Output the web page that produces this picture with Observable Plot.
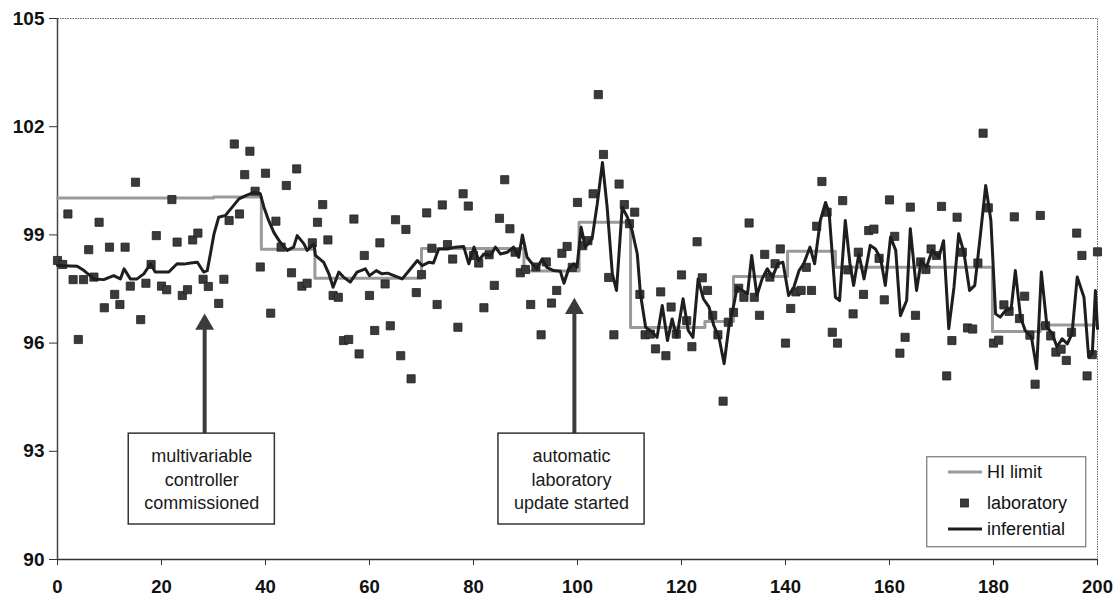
<!DOCTYPE html>
<html><head><meta charset="utf-8">
<script src="https://cdn.jsdelivr.net/npm/d3@7"></script>
<script src="https://cdn.jsdelivr.net/npm/@observablehq/plot@0.6"></script>
<style>
body{margin:0;background:#fff;font-family:"Liberation Sans",Arial,sans-serif;}
#wrap{position:relative;width:1120px;height:597px;overflow:hidden;}
#legend{position:absolute;left:926px;top:456px;}
</style></head>
<body><div id="wrap"></div>
<script>
// inferential (x = sample, v = value)
const infX = [0,3.8,5.1,7.0,8.9,10.8,12.1,12.8,14.0,15.3,16.6,17.9,18.8,19.8,21.4,23.0,24.3,25.6,26.9,28.1,28.8,29.4,30.1,31.0,32.3,33.6,34.9,36.2,37.8,39.0,39.7,40.6,41.6,42.8,44.2,45.4,46.1,47.4,48.0,49.3,
  49.6,51.2,52.2,53.0,54.1,55.0,56.3,57.6,59.2,60.0,61.3,62.4,63.5,64.7,66.3,67.9,69.2,70.1,71.4,72.3,73.3,75.0,76.5,78.1,79.1,80.1,81.0,82.0,83.3,84.2,85.2,86.5,87.7,88.7,89.4,90.3,91.3,92.2,93.2,94.1,95.4,96.7,97.4,98.3,99.3,99.9,
  100.7,101.5,102.8,103.8,104.8,105.7,106.7,107.5,108.6,109.6,110.5,111.5,112.1,113.1,114.4,115.3,116.3,117.3,118.2,119.1,120.3,121.3,122.2,123.2,124.2,125.3,126.2,127.2,128.2,129.1,130.1,130.7,131.7,132.7,133.5,134.5,135.5,136.5,137.5,138.5,139.5,140.6,141.6,142.6,143.5,144.7,145.6,146.7,147.7,148.4,149.6,150.4,
  151.5,152.4,153.1,154.1,155.1,156.3,157.3,158.3,159.2,160.2,161.2,162.1,163.3,164.0,165.2,166.1,167.1,168.2,169.5,170.4,171.4,172.4,173.3,174.3,175.4,176.4,177.5,178.5,179.5,180.4,181.3,182.3,183.4,184.2,185.2,186.1,187.3,188.3,189.2,190.3,191.3,192.2,193.2,194.2,195.1,196.1,197.4,198.3,199.0,199.6,200];
const infV = [98.15,98.13,98.01,97.78,97.76,97.87,97.78,98.06,97.78,97.78,97.92,98.20,97.97,97.97,97.97,98.20,98.19,98.22,98.24,97.97,98.01,98.47,99.03,99.49,99.54,99.77,100.0,100.09,100.18,100.14,99.77,99.40,99.07,98.80,98.57,98.66,98.98,98.75,98.57,98.75,
  98.43,98.24,97.92,97.55,97.97,97.83,97.69,97.97,98.06,97.87,98.01,97.92,97.94,97.87,97.78,98.06,98.29,98.15,98.24,98.22,98.61,98.61,98.66,98.68,98.20,98.66,98.29,98.47,98.43,98.66,98.47,98.52,98.66,98.38,99.0,98.38,98.20,98.06,98.33,98.10,98.01,97.99,97.66,98.06,98.20,98.10,
  99.21,98.66,98.89,99.86,101.01,99.77,97.92,97.46,99.77,99.49,99.12,98.47,97.37,96.44,96.30,96.16,97.04,96.07,96.67,96.16,97.23,96.35,96.16,97.78,97.23,97.0,96.49,96.16,95.43,96.44,97.09,97.55,97.46,97.37,98.43,97.32,97.78,98.06,97.83,98.20,98.24,97.32,97.55,98.01,98.20,98.66,98.20,99.4,99.9,99.6,97.27,97.18,
  99.40,98.20,97.60,98.47,97.78,98.71,98.61,98.34,97.60,98.94,98.57,96.76,97.18,99.17,97.46,98.29,98.10,98.57,98.38,98.84,96.40,97.55,99.03,98.52,97.46,97.60,99.03,100.37,99.40,96.81,96.72,96.90,96.95,98.01,96.72,96.35,96.16,95.29,97.97,96.44,96.26,95.89,96.12,95.98,96.26,97.83,97.27,95.61,95.70,97.46,96.4];

// laboratory samples
const labX = [0,1,2,3,4,5,6,7,8,9,10,11,12,13,14,15,16,17,18,19,20,21,22,23,24,25,26,27,28,29,31,32,33,34,35,36,37,38,39,40,41,42,43,44,45,46,47,48,49,
  50,51,52,53,54,55,56,57,58,59,60,61,62,63,64,65,66,67,68,69,70,71,72,73,74,75,76,77,78,79,80,81,82,83,84,85,86,87,88,89,90,91,92,93,94,95,96,97,98,99,
  100,101,102,103,104,105,106,107,108,109,110,111,112,113,114,115,116,117,118,119,120,121,122,123,124,125,126,127,128,129,130,131,132,133,134,135,136,137,138,139,140,141,142,143,144,145,146,147,148,149,
  150,151,152,153,154,155,156,157,158,159,160,161,162,163,164,165,166,167,168,169,170,171,172,173,174,175,176,177,178,179,180,181,182,183,184,185,186,187,188,189,190,191,192,193,194,195,196,197,198,199,200];
const labV = [98.29,98.18,99.58,97.76,96.10,97.76,98.59,97.83,99.35,96.98,98.66,97.35,97.07,98.66,97.58,100.46,96.65,97.66,98.18,98.98,97.58,97.48,99.98,98.80,97.32,97.48,98.86,99.05,97.77,97.57,97.10,97.77,99.40,101.52,99.58,100.67,101.32,100.21,98.11,100.71,96.83,99.38,98.66,100.37,97.95,100.83,97.58,97.66,98.78,
  99.35,99.84,98.86,97.32,97.27,96.07,96.10,99.44,95.70,98.43,97.32,96.35,98.78,97.64,96.48,99.42,95.65,99.15,95.01,97.40,97.90,99.61,98.63,97.07,99.83,98.73,98.33,96.44,100.14,99.80,98.43,98.22,96.98,98.45,97.60,99.46,100.53,99.17,98.52,97.95,98.04,97.07,98.11,96.23,98.25,97.11,97.46,98.49,98.68,98.10,
  99.90,98.70,98.84,100.14,102.89,101.23,97.82,96.23,100.41,99.84,99.31,99.63,97.35,96.23,96.25,95.84,97.42,95.65,97.0,96.25,97.89,96.62,95.90,98.81,97.81,97.46,96.77,96.23,94.39,96.58,96.85,97.52,97.27,99.33,97.27,96.77,98.46,97.83,98.20,98.61,96.0,96.96,97.42,97.46,98.10,97.46,99.24,100.48,99.63,96.30,
  96.0,99.95,98.03,96.81,98.52,97.35,99.12,99.16,98.35,97.20,99.97,98.96,95.72,96.16,99.77,96.77,98.25,98.04,98.61,98.43,99.79,95.09,96.07,99.49,98.52,96.42,96.39,98.22,101.82,99.75,96.0,96.08,97.06,96.88,99.50,96.68,97.30,96.22,94.86,99.54,96.48,96.20,95.75,95.83,95.52,96.30,99.05,98.43,95.09,95.68,98.53];

// HI limit (step changes)
const hiX = [0,30,39.2,49.5,70,89.7,100.3,110.2,124.5,130,140.4,149.6,179.8,189,200];
const hiV = [100.02,100.05,98.6,97.8,98.62,98.0,99.35,96.43,96.6,97.85,98.55,98.1,96.32,96.5,96.5];

const xTicks = [0,20,40,60,80,100,120,140,160,180,200];
const yTicks = [90,93,96,99,102,105];

const eventX = [28.3, 99.4];
const eventTip = [96.82, 97.26];
const eventLabel = ["multivariable\ncontroller\ncommissioned", "automatic\nlaboratory\nupdate started"];

const legendLabels = ["HI limit", "laboratory", "inferential"];

const inf = infX.map((x, i) => ({x, v: infV[i]}));
const lab = labX.map((x, i) => ({x, v: labV[i]}));
const hi = hiX.map((x, i) => ({x, v: hiV[i]}));
const events = eventX.map((x, i) => ({x, tip: eventTip[i], label: eventLabel[i]}));

const chart = Plot.plot({
  width: 1120, height: 597,
  marginLeft: 57, marginRight: 23, marginTop: 18, marginBottom: 38,
  style: {fontFamily: "Liberation Sans, Arial, sans-serif", background: "white", color: "#111"},
  x: {domain: [0, 200]},
  y: {domain: [90, 105]},
  marks: [
    Plot.frame({stroke: "#666", strokeDasharray: "1.5,1"}),
    Plot.ruleX([0], {stroke: "#444", strokeWidth: 1.5}),
    Plot.ruleY([90], {stroke: "#333", strokeWidth: 1.5}),
    Plot.axisX({ticks: xTicks, tickSize: 6, tickPadding: 14.5, fontSize: 18.5, fontWeight: "bold", stroke: "#333", label: null}),
    Plot.axisY({ticks: yTicks, tickSize: 8, tickPadding: 5, fontSize: 19, fontWeight: "bold", stroke: "#333", label: null}),
    Plot.line(hi, {x: "x", y: "v", curve: "step-after", stroke: "#9a9a9a", strokeWidth: 3}),
    Plot.dot(lab, {x: "x", y: "v", symbol: "square", r: 4.6, fill: "#3a3a3a", stroke: "#222", strokeWidth: 0.8}),
    Plot.line(inf, {x: "x", y: "v", stroke: "#1e1e1e", strokeWidth: 3, strokeLinejoin: "round"}),
    Plot.ruleX(events, {x: "x", y1: 93.49, y2: d => d.tip - 0.35, stroke: "#3c3c3c", strokeWidth: 4}),
    Plot.dot(events, {x: "x", y: "tip", symbol: "triangle", r: 7, fill: "#3c3c3c", stroke: "none", dy: 10.9}),
    Plot.rect(events, {x1: d => d.x - 14.6, x2: d => d.x + 13.5, y1: 90.97, y2: 93.49, fill: "white", stroke: "#333", strokeWidth: 1.5}),
    Plot.text(events, {x: d => d.x - 0.55, y: 92.25, text: "label", fontSize: 18, lineHeight: 1.3, fontWeight: "normal", fill: "#1a1a1a"})
  ]
});

const wrap = document.getElementById("wrap");
wrap.appendChild(chart);

// legend
const ns = "http://www.w3.org/2000/svg";
const lg = document.createElementNS(ns, "svg");
lg.setAttribute("id", "legend");
lg.setAttribute("width", 161);
lg.setAttribute("height", 92);
const rows = [16, 47, 73];
let html = `<rect x="0.75" y="0.75" width="159" height="90" fill="white" stroke="#777" stroke-width="1.2"/>`;
html += `<line x1="22" x2="56" y1="${rows[0]}" y2="${rows[0]}" stroke="#9a9a9a" stroke-width="3"/>`;
html += `<rect x="34.5" y="${rows[1]-4}" width="8" height="8" fill="#3a3a3a" stroke="#222" stroke-width="0.8"/>`;
html += `<line x1="22" x2="56" y1="${rows[2]}" y2="${rows[2]}" stroke="#1e1e1e" stroke-width="3"/>`;
legendLabels.forEach((t, i) => {
  html += `<text x="61" y="${rows[i]}" dy="0.35em" font-size="18" font-family="Liberation Sans, Arial, sans-serif" fill="#111">${t}</text>`;
});
lg.innerHTML = html;
wrap.appendChild(lg);
</script>
</body></html>
